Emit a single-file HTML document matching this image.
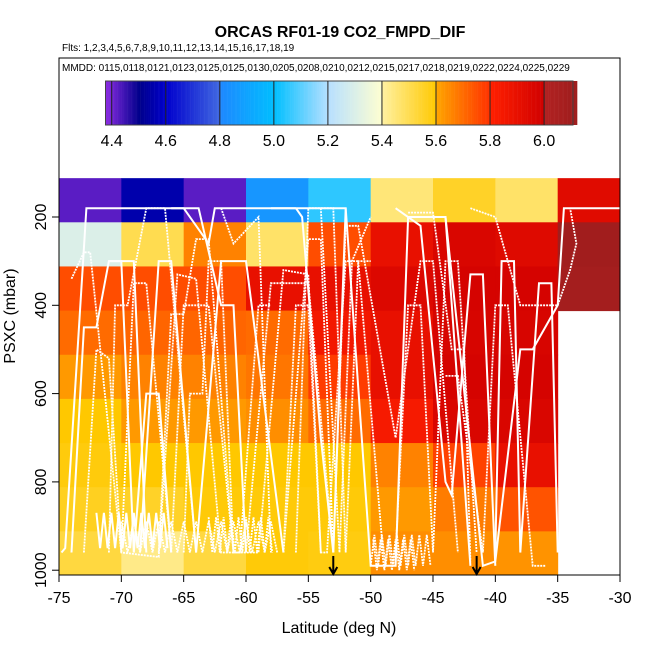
<!DOCTYPE html>
<html><head><meta charset="utf-8"><style>
body{margin:0;background:#fff;font-family:"Liberation Sans",sans-serif}
svg text{font-family:"Liberation Sans",sans-serif}
</style></head><body>
<svg id="c" width="650" height="650" viewBox="0 0 650 650">
<text x="340" y="37" text-anchor="middle" font-size="16" font-weight="bold">ORCAS RF01-19 CO2_FMPD_DIF</text>
<text x="62" y="51" font-size="10">Flts: 1,2,3,4,5,6,7,8,9,10,11,12,13,14,15,16,17,18,19</text>
<g id="heat"></g>
<g id="tracks"></g>
<g id="legend">
<rect x="59" y="58" width="561" height="119" fill="#fff"/>
<text x="62" y="71" font-size="10">MMDD: 0115,0118,0121,0123,0125,0125,0130,0205,0208,0210,0212,0215,0217,0218,0219,0222,0224,0225,0229</text>
</g>
<g id="cbar"></g>
<rect x="59" y="58" width="561" height="517" fill="none" stroke="#000"/>
<g id="axes"></g>
<text x="339" y="633" text-anchor="middle" font-size="16">Latitude (deg N)</text>
<text transform="translate(15,316) rotate(-90)" text-anchor="middle" font-size="16">PSXC (mbar)</text>
</svg>
<script>
const latBins=[-75,-70,-65,-60,-55,-50,-45,-40,-35,-30];
const presBins=[112,212,312,412,512,612,712,812,912,1012];
const cellValues=[
[4.42,4.55,4.42,4.85,5.05,5.45,5.55,5.47,5.93],
[5.3,5.5,5.66,5.47,5.75,5.9,5.96,5.94,6.1],
[5.75,5.75,5.75,5.9,5.9,5.95,5.98,5.98,6.08],
[5.7,5.71,5.71,5.7,5.85,5.9,5.97,5.97,null],
[5.62,5.66,5.66,5.68,5.78,5.9,5.98,5.98,null],
[5.6,5.62,5.62,5.64,5.7,5.84,5.96,5.96,null],
[5.585,5.6,5.6,5.6,5.6,5.66,5.77,5.9,null],
[5.56,5.55,5.59,5.59,5.59,5.62,5.67,5.74,null],
[5.52,5.43,5.52,5.59,5.58,5.64,5.64,5.63,null]];
const xTicks=[-75,-70,-65,-60,-55,-50,-45,-40,-35,-30];
const yTicks=[200,400,600,800,1000];
const cbTicks=[4.4,4.6,4.8,5.0,5.2,5.4,5.6,5.8,6.0];
const arrowLats=[-53,-41.5];
const tracks=[
[-74.8,960,-74.5,950,-72.8,180,-65,180,-63,260,-62.5,180,-56,180],
[-74,340,-73,280,-72.5,280,-70,960,-67,970,-65.5,330,-64,340,-62,960,-59,960,-57,320,-55,330,-54,960],
[-71,960,-70.5,400,-69.5,400,-68,180,-66.5,180,-64,960],
[-68.5,960,-67,300,-66,300,-64,960,-62,300,-60,300,-57,960],
[-70,890,-69.5,960,-69,890,-68.5,960,-68,890,-67.5,960,-67,890,-66.5,960,-66,890,-65.5,960,-65,890,-64.5,960,-64,890,-63.5,960,-63,890,-62.5,960,-62,890,-61.5,960,-61,890,-60.5,960,-60,890,-59.5,960,-59,890,-58.5,960,-58,890,-57.5,960],
[-60,960,-58,350,-55,350,-53,960],
[-58,180,-52,180,-50,990,-48,990,-47,200,-44,200,-42,990],
[-53,960,-52,220,-51,220,-48,700,-46,300,-45,300,-43,960],
[-50,990,-49.7,920,-49.4,990,-49.1,920,-48.8,990,-48.5,920,-48.2,990,-47.9,920,-47.6,990,-47.3,920,-47,990,-46.7,920,-46.4,990,-46.1,920,-45.8,990,-45.5,920,-45.2,990],
[-45,200,-44,200,-41,990,-40,980,-38,500,-37,500,-35,400,-34.5,180,-30,180],
[-42,180,-40,200,-38,400,-35,400,-34,320,-33.5,260,-34,180],
[-44,560,-43,560,-41,960,-40,400,-39,400,-37,990,-36,990],
[-48,180,-46,220,-44,800,-43.5,830,-42,330,-41,330,-40,990],
[-56,960,-55,180,-53,180,-52,960,-51,300,-50,300],
[-62,180,-61,260,-59,200,-58,960],
[-66,180,-63.8,180,-62,400,-61,400,-60,960],
[-73,960,-72,500,-71,520,-70,960,-69,350,-68,350,-66,960,-65,400,-63,400,-61,960],
[-57,960,-56,400,-55,400,-54,960,-53.5,960,-52,300,-51,300,-49,960],
[-72,870,-71.7,950,-71.4,870,-71.1,950,-70.8,870,-70.5,950,-70.2,870,-69.9,950,-69.6,870,-69.3,950,-69,870,-68.7,950,-68.4,870,-68.1,950,-67.8,870,-67.5,950,-67.2,870,-66.9,950,-66.6,870,-66.3,950],
[-63,880,-62.7,960,-62.4,880,-62.1,960,-61.8,880,-61.5,960,-61.2,880,-60.9,960,-60.6,880,-60.3,960,-60,880,-59.7,960,-59.4,880,-59.1,960,-58.8,880,-58.5,960,-58.2,880,-57.9,960],
[-49.8,930,-49.5,1000,-49.2,930,-48.9,1000,-48.6,930,-48.3,1000,-48,930,-47.7,1000,-47.4,930,-47.1,1000,-46.8,930,-46.5,1000],
[-74,960,-73,450,-72,450,-71,300,-69,300,-68,960],
[-67,960,-66,420,-65,420,-64,250,-63,250,-61,960,-60.5,960,-59,400,-58,400],
[-57,960,-55,250,-54,250,-53,960],
[-56,180,-55.5,200,-54,700,-53,960,-52,180],
[-54,180,-52.5,960,-51.5,300,-50,200],
[-48,960,-47,400,-46,400,-45,960,-44,300,-43,300,-41.5,960],
[-40,960,-39.5,300,-38.5,300,-38,960,-36.5,350,-35.5,350,-35,960],
[-47,190,-45,190,-43.5,500,-42.5,500,-42,980],
[-65,960,-64.5,600,-63.5,600,-63,300,-62,300,-61,960],
[-71,300,-70,300,-69,960,-68,600,-67,600,-66,960]];
const NS='http://www.w3.org/2000/svg';
const X=l=>59+(l+75)*12.467, Y=p=>128.7+0.4415*p;
const stops=[[4.377,'#8a2be2'],[4.5,'#00008b'],[4.6,'#0000cd'],[4.8,'#4169e1'],[4.8001,'#1e88ff'],[5.0,'#00bfff'],[5.2,'#b8e0ff'],[5.4,'#ffffd0'],[5.4001,'#fff0a0'],[5.6,'#ffc800'],[5.6001,'#ffa500'],[5.8,'#ff3000'],[5.8001,'#ff2000'],[6.0,'#d00000'],[6.0001,'#b22222'],[6.13,'#9c1c1c']];
function hx(c){return [1,3,5].map(i=>parseInt(c.substr(i,2),16));}
function cmap(v){if(v<=stops[0][0])return stops[0][1];for(let i=1;i<stops.length;i++){if(v<=stops[i][0]){const a=hx(stops[i-1][1]),b=hx(stops[i][1]),t=(v-stops[i-1][0])/(stops[i][0]-stops[i-1][0]);return 'rgb('+a.map((x,k)=>Math.round(x+(b[k]-x)*t)).join(',')+')';}}return stops[stops.length-1][1];}
function mk(t,a,p){const e=document.createElementNS(NS,t);for(const k in a)e.setAttribute(k,a[k]);(p||document.getElementById('c')).appendChild(e);return e;}
const heat=document.getElementById('heat');
cellValues.forEach((row,r)=>row.forEach((v,c)=>{if(v===null)return;
const y0=Math.max(Y(presBins[r]),58),y1=Math.min(Y(presBins[r+1]),575);
const e=mk('rect',{x:X(latBins[c]),y:y0,width:X(latBins[c+1])-X(latBins[c])+0.5,height:y1-y0+0.5,fill:cmap(v)},heat);

}));
const tg=document.getElementById('tracks');
tracks.forEach((t,i)=>{let d='';for(let k=0;k<t.length;k+=2)d+=(k?'L':'M')+X(t[k]).toFixed(1)+','+Y(t[k+1]).toFixed(1);
const e=mk('path',{d:d,fill:'none',stroke:'#fff','stroke-width':i%3==0?2:1.8,'stroke-dasharray':i%3==0?'none':'2 1'},tg);

});
arrowLats.forEach(l=>{const x=X(l);
const e=mk('path',{d:`M${x},556V574M${x-4},567L${x},574L${x+4},567`,stroke:'#000','stroke-width':2,fill:'none'});

});
const cb=document.getElementById('cbar');const CX=v=>111.7+(v-4.4)*270.25;
for(let v=4.377;v<6.12;v+=0.005){const e=mk('rect',{x:CX(v),y:81,width:1.6,height:44,fill:cmap(v)},cb);

}
mk('rect',{x:105.5,y:81,width:467.5,height:44,fill:'none',stroke:'#444'},cb);
cbTicks.forEach(v=>{mk('line',{x1:CX(v),x2:CX(v),y1:81,y2:125,stroke:'#222'},cb);
const t=mk('text',{x:CX(v),y:146,'text-anchor':'middle','font-size':16},cb);t.textContent=v.toFixed(1);

});
const ax=document.getElementById('axes');
xTicks.forEach(v=>{mk('line',{x1:X(v),x2:X(v),y1:575,y2:582,stroke:'#000'},ax);
const t=mk('text',{x:X(v),y:603,'text-anchor':'middle','font-size':16},ax);t.textContent=v;

});
yTicks.forEach(v=>{mk('line',{x1:52,x2:59,y1:Y(v),y2:Y(v),stroke:'#000'},ax);
const t=mk('text',{transform:`translate(46,${Y(v)}) rotate(-90)`,'text-anchor':'middle','font-size':16},ax);t.textContent=v;

});
</script>
</body></html>
